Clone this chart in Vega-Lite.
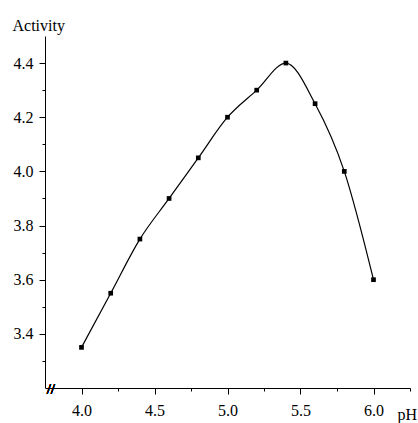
{
  "$schema": "https://vega.github.io/schema/vega-lite/v6.json",
  "width": 365,
  "height": 352,
  "autosize": {"type": "none"},
  "padding": {"left": 45, "top": 36, "right": 8, "bottom": 35},
  "background": "white",
  "config": {
    "view": {"stroke": null},
    "font": "Liberation Serif",
    "axis": {
      "grid": false,
      "domainColor": "black",
      "domainWidth": 1,
      "tickColor": "black",
      "tickWidth": 1,
      "labelColor": "black",
      "titleColor": "black",
      "labelFont": "Liberation Serif",
      "titleFont": "Liberation Serif",
      "labelFontSize": 16,
      "titleFontSize": 16,
      "titleFontWeight": "normal"
    }
  },
  "data": {
    "values": [
      {"pH": 4.0, "Activity": 3.35},
      {"pH": 4.2, "Activity": 3.55},
      {"pH": 4.4, "Activity": 3.75},
      {"pH": 4.6, "Activity": 3.9},
      {"pH": 4.8, "Activity": 4.05},
      {"pH": 5.0, "Activity": 4.2},
      {"pH": 5.2, "Activity": 4.3},
      {"pH": 5.4, "Activity": 4.4},
      {"pH": 5.6, "Activity": 4.25},
      {"pH": 5.8, "Activity": 4.0},
      {"pH": 6.0, "Activity": 3.6}
    ]
  },
  "layer": [
    {
      "mark": {"type": "line", "interpolate": "monotone", "color": "black", "strokeWidth": 1.2},
      "encoding": {
        "x": {
          "field": "pH", "type": "quantitative",
          "scale": {"domain": [3.75, 6.25], "nice": false, "zero": false},
          "axis": {
            "orient": "bottom",
            "values": [4.0, 4.5, 5.0, 5.5, 6.0], "format": ".1f",
            "tickSize": 6, "labelPadding": 8,
            "title": "pH", "titleAlign": "left", "titleBaseline": "alphabetic",
            "titleAnchor": "start", "titleX": 352, "titleY": 31
          }
        },
        "y": {
          "field": "Activity", "type": "quantitative",
          "scale": {"domain": [3.2, 4.5], "nice": false, "zero": false},
          "axis": {
            "orient": "left",
            "values": [3.4, 3.6, 3.8, 4.0, 4.2, 4.4], "format": ".1f",
            "tickSize": 6, "labelPadding": 6,
            "title": "Activity", "titleAngle": 0, "titleAlign": "left",
            "titleBaseline": "alphabetic", "titleAnchor": "start",
            "titleX": -33, "titleY": -6
          }
        }
      }
    },
    {
      "mark": {"type": "point", "shape": "square", "filled": true, "color": "black", "size": 22, "opacity": 1},
      "encoding": {
        "x": {"field": "pH", "type": "quantitative", "axis": null},
        "y": {"field": "Activity", "type": "quantitative", "axis": null}
      }
    },
    {
      "mark": {"type": "point", "opacity": 0},
      "encoding": {
        "x": {
          "field": "pH", "type": "quantitative",
          "axis": {"orient": "bottom", "values": [4.25, 4.75, 5.25, 5.75, 6.25], "labels": false, "tickSize": 3, "domain": false, "title": null}
        },
        "y": {
          "field": "Activity", "type": "quantitative",
          "axis": {"orient": "left", "values": [3.3, 3.5, 3.7, 3.9, 4.1, 4.3], "labels": false, "tickSize": 3, "domain": false, "title": null}
        }
      }
    },
    {
      "mark": {"type": "text", "text": "//", "font": "Liberation Serif", "fontSize": 15, "color": "black", "align": "center", "baseline": "middle", "clip": false},
      "encoding": {
        "x": {"datum": 3.79, "type": "quantitative", "axis": null},
        "y": {"datum": 3.195, "type": "quantitative", "axis": null}
      }
    }
  ],
  "resolve": {"axis": {"x": "independent", "y": "independent"}}
}
